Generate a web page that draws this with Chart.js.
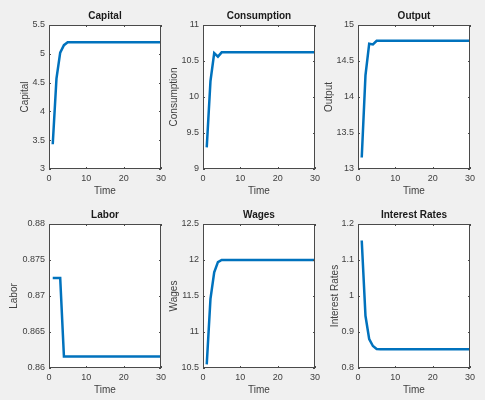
<!DOCTYPE html>
<html>
<head>
<meta charset="utf-8">
<script src="https://cdn.jsdelivr.net/npm/chart.js"></script>
<style>
  body { margin: 0; background: #f0f0f0; width: 485px; height: 400px; overflow: hidden; position: relative; }
  canvas { position: absolute; }
</style>
</head>
<body>
<canvas id="c0" width="170" height="196"></canvas>
<canvas id="c1" width="170" height="196"></canvas>
<canvas id="c2" width="170" height="196"></canvas>
<canvas id="c3" width="170" height="196"></canvas>
<canvas id="c4" width="170" height="196"></canvas>
<canvas id="c5" width="170" height="196"></canvas>
<script>
// Time periods
const time = [1,2,3,4,5,6,7,8,9,10,11,12,13,14,15,16,17,18,19,20,21,22,23,24,25,26,27,28,29,30];

// Series values
const capital = [3.43,4.57,5.02,5.15,5.2,5.2,5.2,5.2,5.2,5.2,5.2,5.2,5.2,5.2,5.2,5.2,5.2,5.2,5.2,5.2,5.2,5.2,5.2,5.2,5.2,5.2,5.2,5.2,5.2,5.2];
const consumption = [9.3,10.22,10.61,10.56,10.62,10.62,10.62,10.62,10.62,10.62,10.62,10.62,10.62,10.62,10.62,10.62,10.62,10.62,10.62,10.62,10.62,10.62,10.62,10.62,10.62,10.62,10.62,10.62,10.62,10.62];
const output = [13.16,14.3,14.74,14.73,14.78,14.78,14.78,14.78,14.78,14.78,14.78,14.78,14.78,14.78,14.78,14.78,14.78,14.78,14.78,14.78,14.78,14.78,14.78,14.78,14.78,14.78,14.78,14.78,14.78,14.78];
const labor = [0.8725,0.8725,0.8725,0.8616,0.8616,0.8616,0.8616,0.8616,0.8616,0.8616,0.8616,0.8616,0.8616,0.8616,0.8616,0.8616,0.8616,0.8616,0.8616,0.8616,0.8616,0.8616,0.8616,0.8616,0.8616,0.8616,0.8616,0.8616,0.8616,0.8616];
const wages = [10.55,11.46,11.83,11.97,12.0,12.0,12.0,12.0,12.0,12.0,12.0,12.0,12.0,12.0,12.0,12.0,12.0,12.0,12.0,12.0,12.0,12.0,12.0,12.0,12.0,12.0,12.0,12.0,12.0,12.0];
const interest = [1.154,0.945,0.88,0.861,0.853,0.852,0.852,0.852,0.852,0.852,0.852,0.852,0.852,0.852,0.852,0.852,0.852,0.852,0.852,0.852,0.852,0.852,0.852,0.852,0.852,0.852,0.852,0.852,0.852,0.852];

// Titles and axis ranges
const titles = ['Capital', 'Consumption', 'Output', 'Labor', 'Wages', 'Interest Rates'];
const series = [capital, consumption, output, labor, wages, interest];
const yMins = [3, 9, 13, 0.86, 10.5, 0.8];
const yMaxs = [5.5, 11, 15, 0.88, 12.5, 1.2];
const ySteps = [0.5, 0.5, 0.5, 0.005, 0.5, 0.1];
const xTicks = [0, 10, 20, 30];

// layout (pixels)
const plotLefts = [49, 203, 358];
const plotTops = [25, 224];
const plotW = 112, plotH = 144;
const W = 48, T = 22, B = 30, R = 10;
const yTitleGap = [24, 29, 28.5, 34.7, 28.6, 22.7];

const font = 'Liberation Sans, Arial, Helvetica, sans-serif';
const lineColor = '#0072BD';

// white plot background, box and inward tick marks like MATLAB
const boxPlugin = {
  id: 'box',
  beforeDraw(chart) {
    const a = chart.chartArea, ctx = chart.ctx;
    ctx.save();
    ctx.fillStyle = '#ffffff';
    ctx.fillRect(a.left, a.top, a.right - a.left, a.bottom - a.top);
    ctx.restore();
  },
  afterDraw(chart) {
    const a = chart.chartArea, ctx = chart.ctx;
    const xs = chart.scales.x, ys = chart.scales.y;
    ctx.save();
    ctx.strokeStyle = '#4a4a4a';
    ctx.lineWidth = 1;
    ctx.strokeRect(a.left + 0.5, a.top + 0.5, a.right - a.left - 1, a.bottom - a.top - 1);
    ctx.beginPath();
    xs.ticks.forEach(t => {
      const px = Math.round(xs.getPixelForValue(t.value)) + 0.5;
      ctx.moveTo(px, a.bottom); ctx.lineTo(px, a.bottom - 2);
      ctx.moveTo(px, a.top); ctx.lineTo(px, a.top + 2);
    });
    ys.ticks.forEach(t => {
      const py = Math.round(ys.getPixelForValue(t.value)) + 0.5;
      ctx.moveTo(a.left, py); ctx.lineTo(a.left + 2, py);
      ctx.moveTo(a.right, py); ctx.lineTo(a.right - 2, py);
    });
    ctx.stroke();
    ctx.restore();
  }
};

titles.forEach((title, i) => {
  const col = i % 3, row = Math.floor(i / 3);
  const canvas = document.getElementById('c' + i);
  canvas.style.left = (plotLefts[col] - W) + 'px';
  canvas.style.top = (plotTops[row] - T) + 'px';
  canvas.width = W + plotW + R;
  canvas.height = T + plotH + B;

  const points = time.map((t, k) => ({ x: t, y: series[i][k] }));

  new Chart(canvas, {
    type: 'line',
    data: {
      datasets: [{
        data: points,
        borderColor: lineColor,
        borderWidth: 2.5,
        pointRadius: 0,
        tension: 0,
        fill: false
      }]
    },
    options: {
      responsive: false,
      animation: false,
      layout: { padding: { left: 0, right: R, top: 0, bottom: 0 } },
      plugins: {
        legend: { display: false },
        tooltip: { enabled: false },
        title: {
          display: true,
          fullSize: false,
          text: title,
          color: '#1a1a1a',
          font: { family: font, size: 10, weight: 'bold' },
          padding: { top: 7, bottom: 3 }
        }
      },
      scales: {
        x: {
          type: 'linear',
          min: 0, max: 30,
          afterBuildTicks: s => { s.ticks = xTicks.map(v => ({ value: v })); },
          afterFit: s => { s.height = B; },
          grid: { display: false, drawTicks: false, tickLength: 0 },
          border: { display: false },
          ticks: { color: '#404040', font: { family: font, size: 9 }, padding: 4, maxRotation: 0 },
          title: {
            display: true, text: 'Time', color: '#404040',
            font: { family: font, size: 10 }, padding: { top: 0, bottom: 2 }
          }
        },
        y: {
          min: yMins[i], max: yMaxs[i],
          afterFit: s => { s.width = W; },
          grid: { display: false, drawTicks: false, tickLength: 0 },
          border: { display: false },
          ticks: {
            stepSize: ySteps[i],
            color: '#404040',
            font: { family: font, size: 9 },
            padding: 4,
            callback: v => String(+v.toFixed(4))
          },
          title: {
            display: true, text: title, color: '#404040',
            font: { family: font, size: 10 },
            padding: { top: W - 6 - yTitleGap[i], bottom: 0 }
          }
        }
      }
    },
    plugins: [boxPlugin]
  });
});
</script>
</body>
</html>
